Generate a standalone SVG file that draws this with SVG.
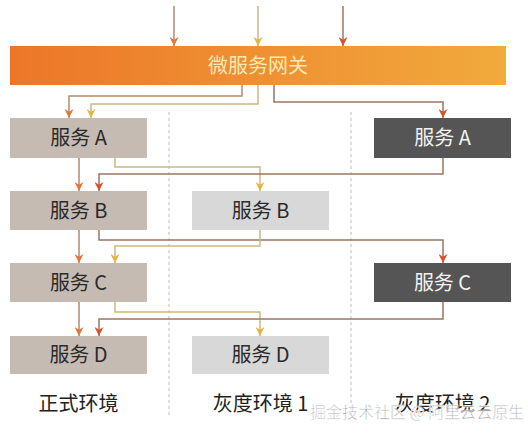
<svg xmlns="http://www.w3.org/2000/svg" width="528" height="434" viewBox="0 0 528 434">
<defs>
<linearGradient id="gw" x1="0" y1="0" x2="1" y2="0">
<stop offset="0" stop-color="#ec7628"/>
<stop offset="1" stop-color="#f1aa3c"/>
</linearGradient>
<marker id="mo" viewBox="0 0 10 10" refX="10" refY="5" markerWidth="9" markerHeight="9" markerUnits="userSpaceOnUse" orient="auto">
<path d="M0,0 L10,5 L0,10 L3,5 Z" fill="#e0783a"/>
</marker>
<marker id="my" viewBox="0 0 10 10" refX="10" refY="5" markerWidth="9" markerHeight="9" markerUnits="userSpaceOnUse" orient="auto">
<path d="M0,0 L10,5 L0,10 L3,5 Z" fill="#e5b443"/>
</marker>
<marker id="mr" viewBox="0 0 10 10" refX="10" refY="5" markerWidth="9" markerHeight="9" markerUnits="userSpaceOnUse" orient="auto">
<path d="M0,0 L10,5 L0,10 L3,5 Z" fill="#d9512c"/>
</marker>
</defs>
<style>
.t{font-family:"Noto Sans CJK SC","Liberation Sans",sans-serif;text-anchor:middle}
.svc{font-size:20px}
.env{font-size:20px;fill:#222}
.c{fill:none;stroke-width:1.5}
.o{stroke:#b38a72;marker-end:url(#mo)}
.y{stroke:#cdb682;marker-end:url(#my)}
.r{stroke:#9c7464;marker-end:url(#mr)}
.sep{stroke:#bdbdbd;stroke-width:1;stroke-dasharray:3,3}
.prod{fill:#c6bbb3}
.g1{fill:#d8d8d8}
.g2{fill:#555555}
</style>
<rect width="528" height="434" fill="#ffffff"/>
<g id="separators">
<line class="sep" x1="169" y1="112" x2="169" y2="416"/>
<line class="sep" x1="351" y1="112" x2="351" y2="416"/>
</g>
<g id="gateway">
<rect x="10" y="46" width="496" height="39" fill="url(#gw)"/>
<text class="t" x="258" y="73" font-size="20" fill="#fbe9b4">微服务网关</text>
</g>
<g id="prod-a"><rect class="prod" x="10" y="118" width="137" height="40"/><text class="t svc" x="78.5" y="145" fill="#2a2a2a">服务 A</text></g>
<g id="prod-b"><rect class="prod" x="10" y="191" width="137" height="39"/><text class="t svc" x="78.5" y="217.5" fill="#2a2a2a">服务 B</text></g>
<g id="prod-c"><rect class="prod" x="10" y="263" width="137" height="39"/><text class="t svc" x="78.5" y="289.5" fill="#2a2a2a">服务 C</text></g>
<g id="prod-d"><rect class="prod" x="10" y="336" width="137" height="38"/><text class="t svc" x="78.5" y="362" fill="#2a2a2a">服务 D</text></g>
<g id="gray1-b"><rect class="g1" x="192" y="191" width="137" height="39"/><text class="t svc" x="260.5" y="217.5" fill="#2a2a2a">服务 B</text></g>
<g id="gray1-d"><rect class="g1" x="192" y="336" width="137" height="38"/><text class="t svc" x="260.5" y="362" fill="#2a2a2a">服务 D</text></g>
<g id="gray2-a"><rect class="g2" x="374" y="118" width="137" height="40"/><text class="t svc" x="442.5" y="145" fill="#f2f2f2">服务 A</text></g>
<g id="gray2-c"><rect class="g2" x="374" y="263" width="137" height="39"/><text class="t svc" x="442.5" y="289.5" fill="#f2f2f2">服务 C</text></g>
<g id="connectors">
<path class="c o" d="M174,6 V46"/>
<path class="c y" d="M258,6 V46"/>
<path class="c r" d="M343,6 V46"/>
<path class="c o" d="M242,85 V96 H69 V118"/>
<path class="c y" d="M258,85 V104 H91 V118"/>
<path class="c r" d="M274,85 V102 H443 V118"/>
<path class="c o" d="M79,158 V191"/>
<path class="c y" d="M115,158 V167 H260 V191"/>
<path class="c r" d="M443,158 V174 H99 V191"/>
<path class="c o" d="M79,230 V263"/>
<path class="c r" d="M99,230 V240 H443 V263"/>
<path class="c y" d="M260,230 V246 H115 V263"/>
<path class="c o" d="M79,302 V336"/>
<path class="c y" d="M115,302 V312 H260 V336"/>
<path class="c r" d="M443,302 V319 H99 V336"/>
</g>
<g id="labels">
<text class="t env" x="78.5" y="411">正式环境</text>
<text class="t env" x="260.5" y="411">灰度环境 1</text>
<text class="t env" x="442.5" y="411">灰度环境 2</text>
</g>
<g id="watermark">
<text x="310" y="418" font-family="Noto Sans CJK SC, sans-serif" font-size="16" fill="#8f8f8f" fill-opacity="0.85" stroke="#ffffff" stroke-width="0.6">掘金技术社区 @ 阿里云云原生</text>
</g>
</svg>
